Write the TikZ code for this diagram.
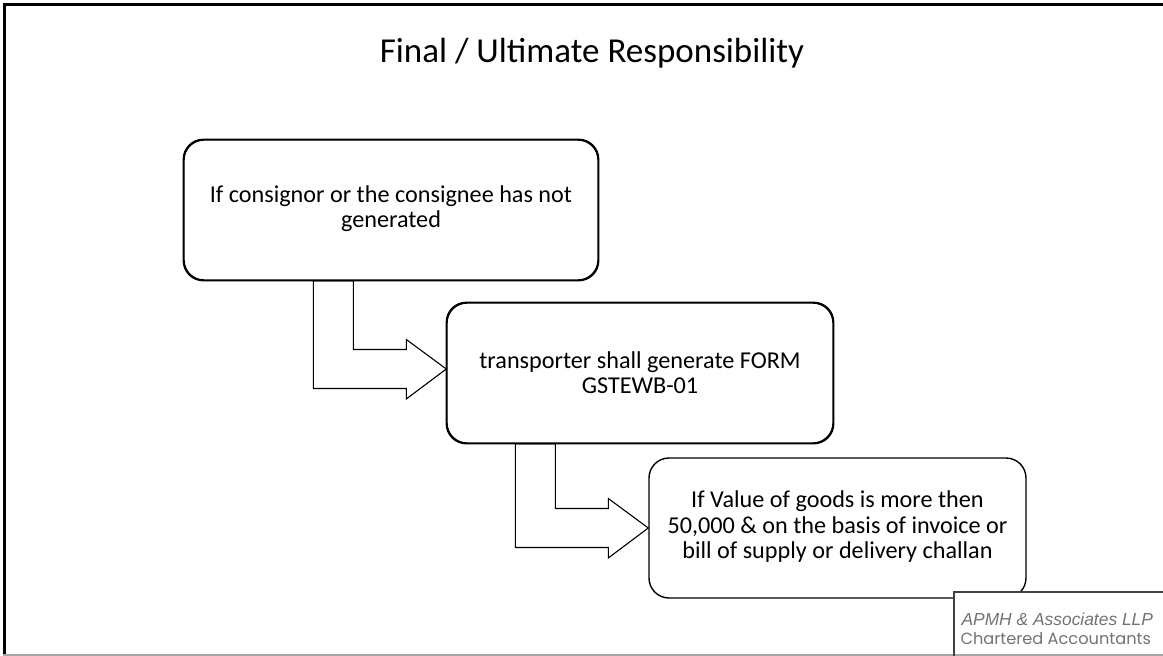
\documentclass[tikz,border=0pt]{standalone}
\usepackage{fontspec}
\setmainfont{Carlito}
\newfontfamily\firmfont{Liberation Sans}
\newfontfamily\tagfont{Poppins}
\usetikzlibrary{calc}

\begin{document}
\begin{tikzpicture}[x=1pt,y=-1pt,
  stepbox/.style={draw=black, line width=1.4pt, rounded corners=20pt, fill=white,
    align=center, inner sep=0pt, minimum height=140pt,
    font=\fontsize{24.2}{25.3}\selectfont},
  bentarrow/.style={draw=black, line width=1.1pt, fill=white, line join=miter},
  frameline/.style={line width=2.7pt, black},
  logoline/.style={line width=1.5pt, black!75}]
\useasboundingbox (0,0) rectangle (1163,656);

% slide frame
\draw[frameline] (4.5,656) -- (4.5,4.2) -- (1163,4.2);
\draw[line width=2pt, black!35] (3,655) -- (1163,655);

% title
\node[anchor=base, font=\fontsize{35}{40}\selectfont] (title) at (592,62)
  {Final / Ultimate Responsibility};

% process steps
\node[stepbox, minimum width=414pt] (b1) at (391,210)
  {\raisebox{-3pt}{\begin{tabular}{@{}c@{}}If consignor or the consignee has not\\generated\end{tabular}}};
\node[stepbox, minimum width=386pt] (b2) at (640,373)
  {transporter shall generate FORM\\GSTEWB-01};
\node[stepbox, minimum width=377pt] (b3) at (837.5,528)
  {\raisebox{-3.5pt}{\begin{tabular}{@{}c@{}}If Value of goods is more then\\50,000 \& on the basis of invoice or\\bill of supply or delivery challan\end{tabular}}};

% bent arrows between the steps
\coordinate (t1) at ($(b2.west)+(0,-4)$);
\draw[bentarrow] (t1) -- ++(-40,-29.5) -- ++(0,10) -- ++(-53,0) coordinate (i1)
  -- (i1 |- b1.south) -- ++(-40,0) coordinate (o1)
  -- ($(o1 |- t1)+(0,19.5)$) -- ++(93,0) -- ++(0,10.5) -- cycle;
\coordinate (t2) at (b3.west);
\draw[bentarrow] (t2) -- ++(-40,-29.5) -- ++(0,10) -- ++(-53,0) coordinate (i2)
  -- (i2 |- b2.south) -- ++(-40,0) coordinate (o2)
  -- ($(o2 |- t2)+(0,19.5)$) -- ++(93,0) -- ++(0,10.5) -- cycle;

% box outlines drawn again over the arrow tops
\draw[line width=1.4pt, rounded corners=20pt] (b1.south west) rectangle (b1.north east);
\draw[line width=1.4pt, rounded corners=20pt] (b2.south west) rectangle (b2.north east);

% firm logo on a white panel
\fill[white] (954,592) rectangle (1163,653.5);
\draw[logoline] (954,656) -- (954,592) -- (1163,592);
\node[anchor=base west, text=black!55, font=\firmfont\itshape\fontsize{17.4}{18}\selectfont]
  (firm) at (958,625) {APMH \& Associates LLP};
\node[anchor=base west, text=black!55, font=\tagfont\fontsize{16.2}{16}\selectfont]
  (tag) at (957,644) {Chartered Accountants};
\end{tikzpicture}
\end{document}
